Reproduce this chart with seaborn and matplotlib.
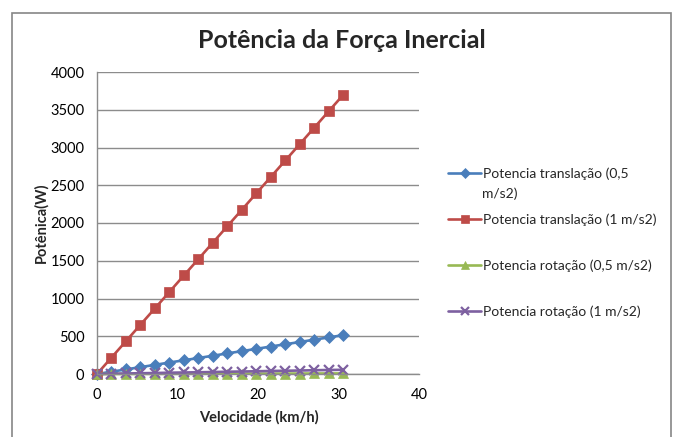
import matplotlib
matplotlib.use("Agg")
import matplotlib.pyplot as plt
import seaborn as sns
import pandas as pd
from matplotlib.patches import Rectangle

# Speed in km/h (steps of 0.5 m/s)
velocidade = [0.0, 1.8, 3.6, 5.4, 7.2, 9.0, 10.8, 12.6, 14.4, 16.2,
              18.0, 19.8, 21.6, 23.4, 25.2, 27.0, 28.8, 30.6]

# Power (W) for each case
trans_05 = [0, 30, 61, 91, 121, 152, 182, 212, 242, 273,
            303, 333, 364, 394, 424, 455, 485, 515]
trans_1 = [0, 218, 435, 653, 870, 1088, 1306, 1523, 1741, 1958,
           2176, 2394, 2611, 2829, 3046, 3264, 3482, 3699]
rot_05 = [0, 0.5, 0.9, 1.4, 1.8, 2.3, 2.7, 3.2, 3.6, 4.1,
          4.5, 5.0, 5.4, 5.9, 6.3, 6.8, 7.2, 7.7]
rot_1 = [0, 3, 7, 10, 13, 17, 20, 23, 26, 30,
         33, 36, 40, 43, 46, 50, 53, 56]

series_names = ["Potencia translação (0,5",
                "Potencia translação (1 m/s2)",
                "Potencia rotação (0,5 m/s2)",
                "Potencia rotação (1 m/s2)"]
series_values = [trans_05, trans_1, rot_05, rot_1]
colors = ["#4A7EBB", "#BE4B48", "#98B954", "#7D60A0"]
markers = ["D", "s", "^", "x"]
marker_sizes = [6.5, 7.5, 7.5, 7]

y_ticks = [0, 500, 1000, 1500, 2000, 2500, 3000, 3500, 4000]
x_ticks = [0, 10, 20, 30, 40]

sns.set_style("white")
plt.rcParams["font.family"] = ["Lato", "DejaVu Sans"]

W, H = 675, 437
fig = plt.figure(figsize=(W / 100, H / 100), dpi=100)
ax = fig.add_axes([97 / W, 1 - 374 / H, (419 - 97) / W, (374 - 72) / H])

grey = "#8C8C8C"
for name, vals, col, mk, ms in zip(series_names, series_values, colors,
                                    markers, marker_sizes):
    df = pd.DataFrame({"v": velocidade, "p": vals})
    sns.lineplot(data=df, x="v", y="p", ax=ax, color=col, marker=mk,
                 markersize=ms, markeredgecolor=col,
                 markeredgewidth=1.6 if mk == "x" else 0.5,
                 linewidth=1.9, label=name, clip_on=False)

ax.set_xlim(0, 40)
ax.set_ylim(0, 4000)
ax.set_xticks(x_ticks)
ax.set_yticks(y_ticks)
ax.set_xlabel("")
ax.set_ylabel("")
ax.yaxis.grid(True, color=grey, linewidth=1)
ax.xaxis.grid(False)
ax.set_axisbelow(True)
for s in ["top", "right"]:
    ax.spines[s].set_visible(False)
for s in ["left", "bottom"]:
    ax.spines[s].set_color(grey)
    ax.spines[s].set_linewidth(1)
ax.tick_params(axis="both", length=0, labelsize=10.5, colors="#000000")
ax.tick_params(axis="y", pad=9)
ax.tick_params(axis="x", pad=10)

ax.get_legend().remove()
handles, labels = ax.get_legend_handles_labels()
fig.legend(handles, labels, loc="upper left",
           bbox_to_anchor=(448 / W, 1 - 167 / H), frameon=False,
           fontsize=10, handlelength=2.4, handletextpad=0.15,
           labelspacing=2.42, borderpad=0, borderaxespad=0, markerscale=0.75)
fig.text(482 / W, 1 - 194 / H, "m/s2)", fontsize=10, ha="left", va="center")

fig.text(342 / W, 1 - 40 / H, "Potência da Força Inercial", fontsize=18,
         fontweight="bold", ha="center", va="center")
fig.text(41 / W, 1 - 223 / H, "Potênica(W)", fontsize=10.5, fontweight="bold",
         rotation=90, ha="center", va="center")
fig.text(259 / W, 1 - 417 / H, "Velocidade (km/h)", fontsize=10.5,
         fontweight="bold", ha="center", va="center")

fig.patches.append(Rectangle((12 / W, -0.05), (671 - 12) / W, 1.05 - 13 / H,
                             transform=fig.transFigure, fill=False,
                             edgecolor="#868686", linewidth=1.2))

fig.savefig("out.png", dpi=100)
